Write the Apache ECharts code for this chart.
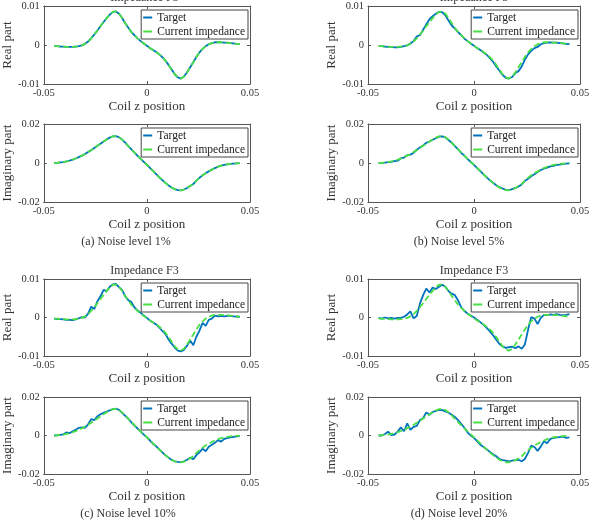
<!DOCTYPE html>
<html><head><meta charset="utf-8">
<script src="https://cdn.jsdelivr.net/npm/echarts@6/dist/echarts.min.js"></script>
<style>html,body{margin:0;padding:0;background:#fff}#c{width:599px;height:526px}</style>
</head><body><div id="c"></div><script>
// Coil z positions
const zPos = [-0.045,-0.0435,-0.042,-0.0405,-0.039,-0.0375,-0.036,-0.0345,-0.033,-0.0315,-0.03,-0.0285,-0.027,-0.0255,-0.024,-0.0225,-0.021,-0.0195,-0.018,-0.0165,-0.015,-0.0135,-0.012,-0.0105,-0.009,-0.0075,-0.006,-0.0045,-0.003,-0.0015,0,0.0015,0.003,0.0045,0.006,0.0075,0.009,0.0105,0.012,0.0135,0.015,0.0165,0.018,0.0195,0.021,0.0225,0.024,0.0255,0.027,0.0285,0.03,0.0315,0.033,0.0345,0.036,0.0375,0.039,0.0405,0.042,0.0435,0.045];

// Current impedance (reconstruction)
const realCurrent = [-0.0003,-0.0003,-0.0004,-0.0004,-0.0005,-0.0005,-0.0005,-0.0004,-0.0003,-0.0001,0.0003,0.0009,0.0017,0.0027,0.0037,0.0048,0.0059,0.0069,0.0078,0.0085,0.0086,0.0080,0.0069,0.0056,0.0044,0.0033,0.0025,0.0017,0.0010,0.0004,-0.0002,-0.0008,-0.0013,-0.0018,-0.0024,-0.0031,-0.0040,-0.0051,-0.0063,-0.0075,-0.0083,-0.0086,-0.0081,-0.0070,-0.0057,-0.0044,-0.0031,-0.0019,-0.0010,-0.0003,0.0002,0.0005,0.0007,0.0007,0.0007,0.0006,0.0006,0.0005,0.0004,0.0003,0.0002];
const imagCurrent = [0.0000,0.0001,0.0003,0.0005,0.0008,0.0012,0.0017,0.0023,0.0030,0.0038,0.0046,0.0056,0.0066,0.0077,0.0088,0.0099,0.0110,0.0121,0.0130,0.0137,0.0138,0.0132,0.0120,0.0104,0.0087,0.0070,0.0053,0.0037,0.0021,0.0006,-0.0009,-0.0025,-0.0041,-0.0057,-0.0073,-0.0088,-0.0102,-0.0115,-0.0126,-0.0134,-0.0139,-0.0140,-0.0136,-0.0128,-0.0118,-0.0108,-0.0090,-0.0076,-0.0063,-0.0052,-0.0043,-0.0034,-0.0026,-0.0019,-0.0014,-0.0010,-0.0007,-0.0005,-0.0003,-0.0002,-0.0001];

// Targets, noise level 1%
const realTarget1 = [-0.0003,-0.0003,-0.0004,-0.0004,-0.0005,-0.0005,-0.0005,-0.0004,-0.0003,-0.0001,0.0003,0.0009,0.0017,0.0027,0.0037,0.0048,0.0059,0.0069,0.0078,0.0085,0.0086,0.0080,0.0069,0.0056,0.0044,0.0033,0.0025,0.0017,0.0010,0.0004,-0.0002,-0.0008,-0.0013,-0.0018,-0.0024,-0.0031,-0.0040,-0.0051,-0.0063,-0.0075,-0.0083,-0.0086,-0.0081,-0.0070,-0.0057,-0.0044,-0.0031,-0.0019,-0.0010,-0.0003,0.0002,0.0005,0.0007,0.0007,0.0007,0.0006,0.0006,0.0005,0.0004,0.0003,0.0002];
const imagTarget1 = [0.0000,0.0001,0.0003,0.0005,0.0008,0.0012,0.0017,0.0023,0.0030,0.0038,0.0046,0.0056,0.0066,0.0077,0.0088,0.0099,0.0110,0.0121,0.0130,0.0137,0.0138,0.0132,0.0120,0.0104,0.0087,0.0070,0.0053,0.0037,0.0021,0.0006,-0.0009,-0.0025,-0.0041,-0.0057,-0.0073,-0.0088,-0.0102,-0.0115,-0.0126,-0.0134,-0.0139,-0.0140,-0.0136,-0.0128,-0.0118,-0.0108,-0.0090,-0.0076,-0.0063,-0.0052,-0.0043,-0.0034,-0.0026,-0.0019,-0.0014,-0.0010,-0.0007,-0.0005,-0.0003,-0.0002,-0.0001];

// Targets, noise level 5%
const realTarget2 = [-0.0003,-0.0003,-0.0004,-0.0005,-0.0005,-0.0006,-0.0006,-0.0005,-0.0003,-0.0001,0.0004,0.0010,0.0022,0.0025,0.0039,0.0053,0.0066,0.0074,0.0080,0.0085,0.0084,0.0076,0.0063,0.0050,0.0042,0.0033,0.0025,0.0016,0.0010,0.0004,-0.0002,-0.0008,-0.0013,-0.0019,-0.0025,-0.0034,-0.0043,-0.0055,-0.0066,-0.0077,-0.0084,-0.0086,-0.0082,-0.0072,-0.0067,-0.0055,-0.0038,-0.0024,-0.0015,-0.0008,-0.0005,0.0002,0.0005,0.0006,0.0007,0.0006,0.0006,0.0005,0.0004,0.0003,0.0002];
const imagTarget2 = [0.0000,0.0001,0.0002,0.0004,0.0006,0.0010,0.0012,0.0024,0.0028,0.0040,0.0043,0.0052,0.0068,0.0080,0.0090,0.0104,0.0110,0.0119,0.0127,0.0135,0.0137,0.0131,0.0118,0.0103,0.0086,0.0070,0.0052,0.0037,0.0020,0.0005,-0.0010,-0.0026,-0.0042,-0.0058,-0.0074,-0.0089,-0.0101,-0.0114,-0.0124,-0.0131,-0.0138,-0.0139,-0.0134,-0.0128,-0.0121,-0.0110,-0.0092,-0.0081,-0.0068,-0.0058,-0.0046,-0.0036,-0.0029,-0.0024,-0.0017,-0.0015,-0.0010,-0.0008,-0.0005,-0.0003,-0.0002];

// Targets, noise level 10%
const realTarget3 = [-0.0003,-0.0004,-0.0004,-0.0005,-0.0006,-0.0006,-0.0007,-0.0005,-0.0002,0.0001,0.0000,0.0010,0.0028,0.0022,0.0042,0.0055,0.0072,0.0068,0.0080,0.0086,0.0087,0.0079,0.0071,0.0055,0.0045,0.0040,0.0026,0.0018,0.0012,0.0005,-0.0001,-0.0008,-0.0013,-0.0018,-0.0026,-0.0035,-0.0043,-0.0057,-0.0068,-0.0078,-0.0086,-0.0088,-0.0084,-0.0073,-0.0060,-0.0072,-0.0050,-0.0034,-0.0014,-0.0022,-0.0006,-0.0003,0.0005,0.0003,0.0004,0.0003,0.0004,0.0004,0.0003,0.0002,0.0002];
const imagTarget3 = [0.0000,0.0001,0.0003,0.0006,0.0016,0.0012,0.0022,0.0030,0.0040,0.0042,0.0040,0.0058,0.0085,0.0080,0.0100,0.0110,0.0118,0.0124,0.0131,0.0137,0.0139,0.0133,0.0118,0.0102,0.0087,0.0068,0.0052,0.0036,0.0020,0.0005,-0.0010,-0.0026,-0.0043,-0.0056,-0.0072,-0.0088,-0.0103,-0.0115,-0.0127,-0.0134,-0.0137,-0.0138,-0.0134,-0.0126,-0.0115,-0.0123,-0.0102,-0.0088,-0.0068,-0.0082,-0.0058,-0.0048,-0.0038,-0.0024,-0.0032,-0.0018,-0.0014,-0.0010,-0.0007,-0.0004,-0.0003];

// Targets, noise level 20%
const realTarget4 = [-0.0001,-0.0003,0.0000,-0.0002,-0.0001,-0.0003,-0.0001,-0.0001,0.0002,0.0008,0.0016,-0.0002,0.0004,0.0036,0.0058,0.0075,0.0065,0.0078,0.0074,0.0080,0.0085,0.0080,0.0068,0.0062,0.0058,0.0044,0.0026,0.0017,0.0010,0.0005,0.0000,-0.0006,-0.0012,-0.0019,-0.0027,-0.0036,-0.0046,-0.0058,-0.0069,-0.0075,-0.0079,-0.0077,-0.0076,-0.0080,-0.0075,-0.0081,-0.0070,-0.0032,0.0001,-0.0003,-0.0017,-0.0001,0.0007,0.0006,0.0008,0.0007,0.0009,0.0007,0.0006,0.0007,0.0009];
const imagTarget4 = [0.0000,0.0000,0.0008,0.0020,0.0002,0.0005,0.0020,0.0042,0.0022,0.0063,0.0030,0.0045,0.0050,0.0080,0.0090,0.0120,0.0108,0.0122,0.0128,0.0133,0.0132,0.0125,0.0118,0.0108,0.0096,0.0080,0.0060,0.0040,0.0015,0.0000,-0.0012,-0.0030,-0.0048,-0.0060,-0.0072,-0.0085,-0.0097,-0.0108,-0.0122,-0.0128,-0.0131,-0.0134,-0.0131,-0.0128,-0.0126,-0.0134,-0.0122,-0.0090,-0.0052,-0.0060,-0.0080,-0.0058,-0.0030,-0.0040,-0.0018,-0.0013,-0.0010,-0.0008,-0.0006,-0.0012,-0.0010];

// Axis ticks
const xTicks = [-0.05, 0, 0.05];
const realTicks = [-0.01, 0, 0.01];
const imagTicks = [-0.02, 0, 0.02];

const seriesNames = ['Target', 'Current impedance'];
const captions = ['(a) Noise level 1%', '(b) Noise level 5%', '(c) Noise level 10%', '(d) Noise level 20%'];
const plotTitle = 'Impedance F3';
const xName = 'Coil z position';
const yNames = ['Real part', 'Imaginary part'];

const targets = [[realTarget1, imagTarget1],[realTarget2, imagTarget2],[realTarget3, imagTarget3],[realTarget4, imagTarget4]];
const currents = [realCurrent, imagCurrent];

// layout
const layout = [
  {left:39, width:211, tops:[6,124], h:78, capX:126, capY:242},
  {left:368, width:212, tops:[6,124], h:78, capX:459, capY:242},
  {left:39, width:211, tops:[279,397], h:77, capX:128, capY:514},
  {left:368, width:212, tops:[279,397], h:77, capX:459, capY:514}
];

const FONT = '"Liberation Serif", "Times New Roman", serif';
const AX = '#555';
const TXT = '#333';
const BLUE = '#0072BD';
const GREEN = '#4ADF44';

const grid = [], xAxis = [], yAxis = [], series = [], legend = [], graphic = [];
const pairs = ys => zPos.map((z, i) => [z, ys[i]]);

layout.forEach((L, p) => {
  [0, 1].forEach(part => {
    const g = grid.length;
    const top = L.tops[part];
    grid.push({left: L.left, top: top, width: L.width, height: L.h});
    const yt = part === 0 ? realTicks : imagTicks;
    const common = () => ({
      axisLine: {show: true, onZero: false, lineStyle: {color: AX, width: 1}},
      axisTick: {show: true, inside: true, length: 3, lineStyle: {color: AX}},
      splitLine: {show: false}
    });
    xAxis.push(Object.assign(common(), {
      type: 'value', gridIndex: g, position: 'bottom',
      min: xTicks[0], max: xTicks[2], interval: xTicks[2] - xTicks[1],
      axisLabel: {color: TXT, fontFamily: FONT, fontSize: 10.5, margin: 4},
      name: xName, nameLocation: 'middle', nameGap: 14,
      nameTextStyle: {color: TXT, fontFamily: FONT, fontSize: 13}
    }));
    const bx = xAxis.length - 1;
    xAxis.push(Object.assign(common(), {
      type: 'value', gridIndex: g, position: 'top',
      min: xTicks[0], max: xTicks[2], interval: xTicks[2] - xTicks[1],
      axisLabel: {show: false}
    }));
    yAxis.push(Object.assign(common(), {
      type: 'value', gridIndex: g, position: 'left',
      min: yt[0], max: yt[2], interval: yt[2] - yt[1],
      axisLabel: {color: TXT, fontFamily: FONT, fontSize: 10.5, margin: 4},
      name: yNames[part], nameLocation: 'middle', nameGap: 26,
      nameTextStyle: {color: TXT, fontFamily: FONT, fontSize: 13}
    }));
    const ly = yAxis.length - 1;
    yAxis.push(Object.assign(common(), {
      type: 'value', gridIndex: g, position: 'right',
      min: yt[0], max: yt[2], interval: yt[2] - yt[1],
      axisLabel: {show: false}
    }));
    series.push({
      name: seriesNames[0], type: 'line', xAxisIndex: bx, yAxisIndex: ly,
      data: pairs(targets[p][part]), symbol: 'none', showSymbol: false,
      lineStyle: {color: BLUE, width: 1.8}, itemStyle: {color: BLUE}
    });
    series.push({
      name: seriesNames[1], type: 'line', xAxisIndex: bx, yAxisIndex: ly,
      data: pairs(currents[part]), symbol: 'none', showSymbol: false,
      lineStyle: {color: GREEN, width: 1.8, type: [6, 3]}, itemStyle: {color: GREEN}
    });
    legend.push({
      data: seriesNames, orient: 'vertical', selectedMode: false,
      icon: 'rect',
      right: 599 - (L.left + L.width) + 2, top: top + 4,
      itemWidth: 9, itemHeight: 2, itemGap: 1,
      padding: [1, 3, 1, 2],
      backgroundColor: '#fff', borderColor: '#444', borderWidth: 1,
      textStyle: {color: '#222', fontFamily: FONT, fontSize: 11.5, lineHeight: 13}
    });
    if (part === 0) {
      graphic.push({type: 'text', x: L.left + L.width / 2, y: top - 8.5, z: 100,
        style: {text: plotTitle, align: 'center', verticalAlign: 'middle', font: '12px ' + FONT, fill: TXT}});
    }
  });
  graphic.push({type: 'text', x: L.capX, y: L.capY, z: 100,
    style: {text: captions[p], align: 'center', verticalAlign: 'middle', font: '12px ' + FONT, fill: TXT}});
});

const chart = echarts.init(document.getElementById('c'), null, {renderer: 'canvas'});
chart.setOption({
  animation: false,
  backgroundColor: '#fff',
  textStyle: {fontFamily: FONT},
  grid, xAxis, yAxis, series, legend, graphic
});
</script></body></html>
